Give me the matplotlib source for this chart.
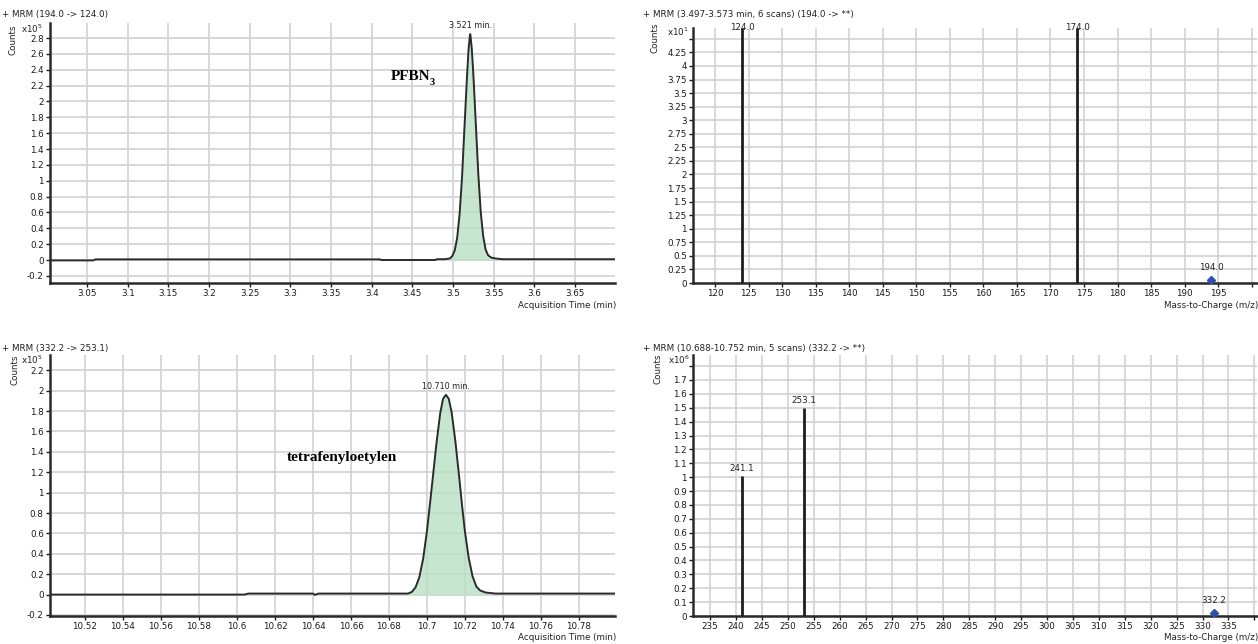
import numpy as np
import matplotlib
matplotlib.use("Agg")
import matplotlib.pyplot as plt

# ======================================
# data
# ======================================
# chromatogram 1: MRM 194.0 -> 124.0, counts x10^5
tic1_time = [3.000, 3.058, 3.060, 3.410, 3.412, 3.478, 3.480, 3.490, 3.496, 3.499,
             3.502, 3.505, 3.508, 3.511, 3.514, 3.517, 3.519, 3.5205, 3.521, 3.5215,
             3.523, 3.525, 3.528, 3.531, 3.534, 3.537, 3.540, 3.543, 3.547, 3.552,
             3.560, 3.575, 3.700]
tic1_counts = [-0.005, -0.005, 0.008, 0.008, 0.0, 0.0, 0.01, 0.01, 0.02, 0.05,
               0.12, 0.28, 0.58, 1.05, 1.68, 2.30, 2.66, 2.82, 2.85, 2.82,
               2.66, 2.32, 1.70, 1.08, 0.60, 0.30, 0.13, 0.06, 0.03, 0.02,
               0.01, 0.01, 0.01]
peak1_rt = 3.521
peak1_name = "PFBN"

# chromatogram 2: MRM 332.2 -> 253.1, counts x10^5
tic2_time = [10.500, 10.604, 10.606, 10.640, 10.641, 10.643, 10.680, 10.690, 10.692,
             10.694, 10.696, 10.698, 10.700, 10.7016, 10.703, 10.705, 10.707, 10.7085,
             10.710, 10.7115, 10.713, 10.715, 10.717, 10.7184, 10.720, 10.722, 10.724,
             10.726, 10.728, 10.731, 10.736, 10.750, 10.800]
tic2_counts = [0.0, 0.0, 0.01, 0.01, -0.003, 0.01, 0.01, 0.01, 0.025,
               0.07, 0.17, 0.35, 0.62, 0.89, 1.13, 1.48, 1.78, 1.92,
               1.96, 1.92, 1.79, 1.50, 1.15, 0.89, 0.62, 0.36, 0.18,
               0.08, 0.04, 0.02, 0.01, 0.01, 0.01]
peak2_rt = 10.710
peak2_name = "tetrafenyloetylen"

# spectrum 1: counts x10^1
spec1_mz = [124.0, 174.0]
spec1_counts = [4.7, 4.7]
spec1_precursor = 194.0
spec1_precursor_y = 0.05

# spectrum 2: counts x10^6
spec2_mz = [241.1, 253.1]
spec2_counts = [1.01, 1.50]
spec2_precursor = 332.2
spec2_precursor_y = 0.02

W, H = 1258, 644
fig = plt.figure(figsize=(W / 100, H / 100), dpi=100)
plt.rcParams["font.family"] = "DejaVu Sans"

def px_axes(left, top, right, bottom):
    return fig.add_axes([left / W, 1 - bottom / H, (right - left) / W, (bottom - top) / H])

def fig_text(x, y, s, **kw):
    fig.text(x / W, 1 - y / H, s, **kw)

def style(ax, xticks, yticks, ylabels, gridcolor):
    for side in ["top", "right"]:
        ax.spines[side].set_visible(False)
    for side in ["left", "bottom"]:
        ax.spines[side].set_linewidth(1.8)
        ax.spines[side].set_color("#2a2a2a")
    ax.set_xticks(xticks)
    ax.set_xticklabels(["%g" % v for v in xticks])
    ax.set_yticks(yticks)
    ax.set_yticklabels(ylabels)
    ax.tick_params(labelsize=6.3, length=3, width=1, pad=1.5, colors="#1a1a1a")
    ax.grid(True, color=gridcolor, linewidth=1.2)
    ax.set_axisbelow(True)

fill_color = "#b9e0c4"

# ======================================
# chromatograms
# ======================================
chroms = [
    (px_axes(50, 23, 615, 283), tic1_time, tic1_counts, peak1_rt, (3.0045, 3.699), (-0.29, 2.99),
     np.round(np.arange(3.05, 3.66, 0.05), 2), np.round(np.arange(-0.2, 2.81, 0.2), 1),
     (3.496, 3.560), "+ MRM (194.0 -> 124.0)", 15, 305),
    (px_axes(50, 355, 615, 616), tic2_time, tic2_counts, peak2_rt, (10.5016, 10.799), (-0.21, 2.35),
     np.round(np.arange(10.52, 10.79, 0.02), 2), np.round(np.arange(-0.2, 2.21, 0.2), 1),
     (10.690, 10.731), "+ MRM (332.2 -> 253.1)", 348, 637),
]
for ax, t, c, rt, xl, yl, xt, yt, span, title, ty, xly in chroms:
    t = np.array(t)
    c = np.array(c)
    style(ax, xt, yt, ["%g" % v for v in yt], "#d2d2d2")
    m = (t >= span[0]) & (t <= span[1])
    ax.fill_between(t[m], 0, c[m], color=fill_color, alpha=0.8, lw=0, zorder=2)
    ax.plot(t, c, color="#2b2b2b", lw=1.4, zorder=3)
    ax.set_xlim(*xl)
    ax.set_ylim(*yl)
    ax.annotate("%.3f min." % rt, xy=(rt, c.max()), xytext=(0, 3), textcoords="offset points",
                ha="center", va="bottom", fontsize=5.8, color="#222222")
    fig_text(2, ty, title, fontsize=6.3, va="center", ha="left", color="#222222")
    fig_text(616, xly, "Acquisition Time (min)", fontsize=6.3, va="center", ha="right", color="#222222")

# compound labels
ax1 = chroms[0][0]
lab = ax1.text(3.423, 2.32, peak1_name, fontsize=11, fontweight="bold",
               family="Liberation Serif", va="center", ha="left")
ax1.annotate("3", xy=(1.0, 0.0), xycoords=lab, fontsize=7.5, fontweight="bold",
             family="Liberation Serif", va="center", ha="left")
ax2 = chroms[1][0]
ax2.text(10.626, 1.34, peak2_name, fontsize=11, fontweight="bold",
         family="Liberation Serif", va="center", ha="left")

# ======================================
# spectra
# ======================================
specs = [
    (px_axes(693, 28, 1257, 283), spec1_mz, spec1_counts, spec1_precursor, spec1_precursor_y,
     (116.7, 200.8), (0, 4.7), np.arange(120, 196, 5), np.arange(0, 4.51, 0.25),
     "+ MRM (3.497-3.573 min, 6 scans) (194.0 -> **)", 15, 305, 0.23),
    (px_axes(693, 355, 1257, 616), spec2_mz, spec2_counts, spec2_precursor, spec2_precursor_y,
     (231.7, 340.5), (0, 1.88), np.arange(235, 336, 5), np.round(np.arange(0, 1.81, 0.1), 1),
     "+ MRM (10.688-10.752 min, 5 scans) (332.2 -> **)", 349, 638, 0.09),
]
for ax, mz, cnt, prec, prec_y, xl, yl, xt, yt, title, ty, xly, lab_dy in specs:
    ylabels = ["%g" % v for v in yt]
    ylabels[-1] = ""
    style(ax, xt, yt, ylabels, "#cfcfcf")
    ax.set_xticks(list(xt) + [xt[-1] + 5])
    ax.set_xticklabels(["%g" % v for v in xt] + [""])
    ax.grid(True, color="#d0d0d0", linewidth=1.1)
    ax.vlines(mz, 0, cnt, color="#1e1e1e", lw=2.0, zorder=3)
    for x, y in zip(mz, cnt):
        va = "center" if y >= yl[1] else "bottom"
        ax.text(x, y + (0 if va == "center" else 0.02), "%.1f" % x, fontsize=6.3,
                ha="center", va=va, color="#222222", zorder=4)
    ax.plot([prec], [prec_y], marker="D", ms=4, color="#2e4fa8", zorder=4)
    ax.text(prec, prec_y + lab_dy, "%.1f" % prec, fontsize=6.3, ha="center", va="center",
            color="#222222")
    ax.set_xlim(*xl)
    ax.set_ylim(*yl)
    fig_text(643, ty, title, fontsize=6.3, va="center", ha="left", color="#222222")
    fig_text(1258, xly, "Mass-to-Charge (m/z)", fontsize=6.3, va="center", ha="right", color="#222222")

# y-axis captions and multipliers
for x, y in [(13, 40), (655, 38), (15, 370), (658, 369)]:
    fig_text(x, y, "Counts", fontsize=6.3, rotation=90, ha="center", va="center", color="#222222")
for x, y, s in [(43, 29, "5"), (689, 32, "1"), (43, 360, "5"), (690, 360, "6")]:
    fig_text(x, y, r"x10$^{%s}$" % s, fontsize=6.3, ha="right", va="center", color="#222222")

fig.savefig("out.png", dpi=100)
